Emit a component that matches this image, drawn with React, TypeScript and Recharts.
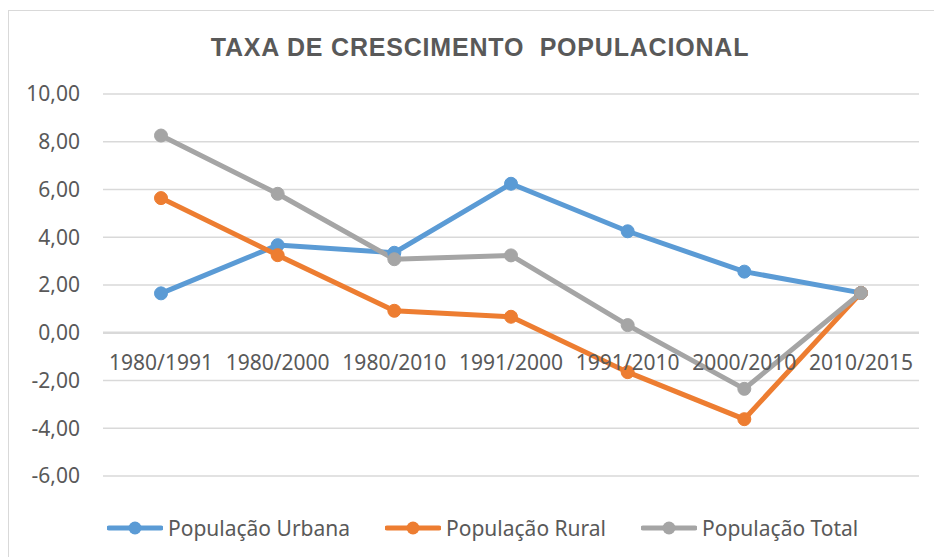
import { LineChart, Line, XAxis, YAxis, CartesianGrid, ReferenceLine, ReferenceDot } from 'recharts';

// ── Data ─────────────────────────────────────────────────────────────

const periods = ['1980/1991', '1980/2000', '1980/2010', '1991/2000', '1991/2010', '2000/2010', '2010/2015'];
const urbana = [1.65, 3.67, 3.35, 6.24, 4.25, 2.56, 1.67];
const rural = [5.64, 3.25, 0.92, 0.67, -1.65, -3.62, 1.67];
const total = [8.26, 5.82, 3.08, 3.24, 0.32, -2.35, 1.67];
const yTicks = [-6, -4, -2, 0, 2, 4, 6, 8, 10];

const series = [
  { key: 'urbana', name: 'População Urbana', color: '#5B9BD5' },
  { key: 'rural', name: 'População Rural', color: '#ED7D31' },
  { key: 'total', name: 'População Total', color: '#A5A5A5' },
];

const data = periods.map((p, i) => ({ period: p, urbana: urbana[i], rural: rural[i], total: total[i] }));

const textColor = '#595959';
const font = '"Noto Sans", sans-serif';
const fmt = (v: number) => v.toFixed(2).replace('.', ',');

// ── Legend (line + dot swatch) ───────────────────────────────────────

function LegendRow() {
  return (
    <div
      style={{
        position: 'absolute', left: 107, top: 514, display: 'flex', alignItems: 'center',
        gap: 35, fontFamily: font, fontSize: 21, color: textColor, whiteSpace: 'nowrap',
      }}
    >
      {series.map((s) => (
        <div key={s.key} style={{ display: 'flex', alignItems: 'center', gap: 5 }}>
          <svg width={56} height={16}>
            <line x1={2} y1={8} x2={54} y2={8} stroke={s.color} strokeWidth={5} strokeLinecap="round" />
            <circle cx={28} cy={8} r={6.5} fill={s.color} />
          </svg>
          <span style={{ lineHeight: '28px' }}>{s.name}</span>
        </div>
      ))}
    </div>
  );
}

export default function App() {
  return (
    <div style={{ position: 'absolute', left: 0, top: 0, width: 934, height: 557, background: '#fff', overflow: 'hidden' }}>
      <div
        style={{
          position: 'absolute', left: 8, top: 10, width: 960, height: 600,
          border: '1px solid #d9d9d9', boxSizing: 'border-box',
        }}
      />
      <div
        style={{
          position: 'absolute', left: 0, width: 960, top: 32, textAlign: 'center',
          fontFamily: '"Liberation Sans", Arial, sans-serif', fontWeight: 'bold', fontSize: 25,
          letterSpacing: 0.8, color: textColor, lineHeight: '30px',
        }}
      >
        TAXA DE CRESCIMENTO&nbsp; POPULACIONAL
      </div>
      <div style={{ position: 'absolute', left: 0, top: 0 }}>
        <LineChart width={934} height={557} data={data} margin={{ top: 94, right: 15, bottom: 81, left: 0 }}>
          <CartesianGrid vertical={false} stroke="#d9d9d9" strokeWidth={1.5} />
          <XAxis dataKey="period" hide padding={{ left: 58, right: 58 }} />
          <YAxis
            width={103}
            domain={[-6, 10]}
            ticks={yTicks}
            interval={0}
            axisLine={false}
            tickLine={false}
            tickMargin={17}
            tickFormatter={fmt}
            tick={{ fontSize: 21, fill: textColor, fontFamily: font }}
          />
          <ReferenceLine y={0} stroke="#d9d9d9" strokeWidth={2.5} />
          {periods.map((p) => (
            <ReferenceDot
              key={p}
              x={p}
              y={0}
              r={0}
              stroke="none"
              fill="none"
              label={{ value: p, position: 'bottom', offset: 22, fill: textColor, fontSize: 21, fontFamily: font }}
            />
          ))}
          {series.map((s) => (
            <Line
              key={s.key}
              dataKey={s.key}
              name={s.name}
              stroke={s.color}
              strokeWidth={5}
              dot={{ r: 6.5, fill: s.color, stroke: s.color, strokeWidth: 1 }}
              activeDot={false}
              isAnimationActive={false}
            />
          ))}
        </LineChart>
      </div>
      <LegendRow />
    </div>
  );
}
